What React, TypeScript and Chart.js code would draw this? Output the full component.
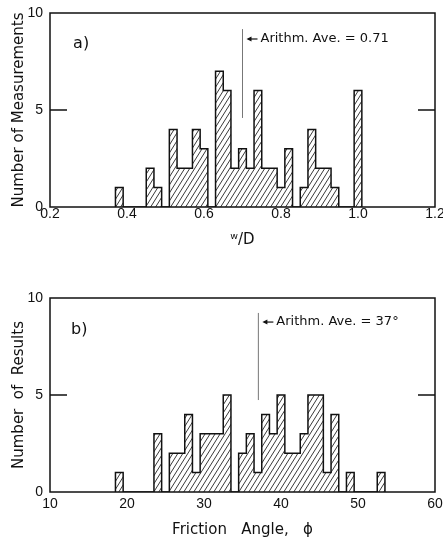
import React, { useEffect, useRef } from "react";
import { Chart, registerables } from "chart.js";
Chart.register(...registerables);

// ---------- Data ----------
const binCentersA = [0.38, 0.40, 0.42, 0.44, 0.46, 0.48, 0.50, 0.52, 0.54, 0.56, 0.58, 0.60, 0.62, 0.64, 0.66, 0.68, 0.70, 0.72, 0.74, 0.76, 0.78, 0.80, 0.82, 0.84, 0.86, 0.88, 0.90, 0.92, 0.94, 0.96, 0.98, 1.00];
const countsA = [1, 0, 0, 0, 2, 1, 0, 4, 2, 2, 4, 3, 0, 7, 6, 2, 3, 2, 6, 2, 2, 1, 3, 0, 1, 4, 2, 2, 1, 0, 0, 6];
const binWidthA = 0.02;

const binCentersB = [19, 20, 21, 22, 23, 24, 25, 26, 27, 28, 29, 30, 31, 32, 33, 34, 35, 36, 37, 38, 39, 40, 41, 42, 43, 44, 45, 46, 47, 48, 49, 50, 51, 52, 53];
const countsB = [1, 0, 0, 0, 0, 3, 0, 2, 2, 4, 1, 3, 3, 3, 5, 0, 2, 3, 1, 4, 3, 5, 2, 2, 3, 5, 5, 1, 4, 0, 1, 0, 0, 0, 1];
const binWidthB = 1;

const avgLineA = { x: 0.70, top: 9.17, bottom: 4.59, arrowY: 8.66, text: "Arithm. Ave. = 0.71" };
const avgLineB = { x: 37.06, top: 9.23, bottom: 4.74, arrowY: 8.76, text: "Arithm. Ave. = 37°" };
const panelLabelA = { x: 0.26, y: 8.4, text: "a)" };
const panelLabelB = { x: 12.73, y: 8.35, text: "b)" };

const xRangeA = { min: 0.2, max: 1.2, step: 0.2 };
const xRangeB = { min: 10, max: 60, step: 10 };
const yRange = { min: 0, max: 10, step: 5 };

// ---------- Helpers ----------
function stepPoints(centers: number[], counts: number[], w: number) {
  const pts: { x: number; y: number }[] = [{ x: centers[0] - w / 2, y: 0 }];
  centers.forEach((c, i) => pts.push({ x: c - w / 2, y: counts[i] }));
  pts.push({ x: centers[centers.length - 1] + w / 2, y: 0 });
  return pts;
}

function makeHatch(ctx: CanvasRenderingContext2D) {
  const c = document.createElement("canvas");
  const w = 5, h = 8;
  c.width = w; c.height = h;
  const g = c.getContext("2d")!;
  g.strokeStyle = "#222";
  g.lineWidth = 0.9;
  g.beginPath();
  g.moveTo(0, h); g.lineTo(w, 0);
  g.moveTo(-w, h); g.lineTo(0, 0);
  g.moveTo(w, h); g.lineTo(2 * w, 0);
  g.stroke();
  return ctx.createPattern(c, "repeat");
}

const framePlugin = {
  id: "frame",
  afterDatasetsDraw(chart: any, _args: any, opts: any) {
    const { ctx, chartArea: a, scales } = chart;
    const x = scales.x, y = scales.y;
    ctx.save();
    ctx.strokeStyle = "#111";
    ctx.lineWidth = 1.5;
    ctx.strokeRect(a.left, a.top, a.right - a.left, a.bottom - a.top);
    const yp = y.getPixelForValue(opts.innerTick);
    ctx.beginPath();
    ctx.moveTo(a.left, yp); ctx.lineTo(a.left + 17, yp);
    ctx.moveTo(a.right, yp); ctx.lineTo(a.right - 17, yp);
    ctx.stroke();

    const av = opts.avg;
    const ax = x.getPixelForValue(av.x);
    ctx.strokeStyle = "#777";
    ctx.lineWidth = 1;
    ctx.beginPath();
    ctx.moveTo(ax, y.getPixelForValue(av.top));
    ctx.lineTo(ax, y.getPixelForValue(av.bottom));
    ctx.stroke();

    const ay = y.getPixelForValue(av.arrowY);
    ctx.strokeStyle = "#111";
    ctx.fillStyle = "#111";
    ctx.lineWidth = 1.2;
    ctx.beginPath();
    ctx.moveTo(ax + 6, ay); ctx.lineTo(ax + 15, ay);
    ctx.stroke();
    ctx.beginPath();
    ctx.moveTo(ax + 4, ay); ctx.lineTo(ax + 9, ay - 2.5); ctx.lineTo(ax + 9, ay + 2.5); ctx.closePath();
    ctx.fill();

    ctx.font = "13px 'DejaVu Sans'";
    ctx.textAlign = "left";
    ctx.textBaseline = "middle";
    ctx.fillText(av.text, ax + 18, ay);

    const pl = opts.label;
    ctx.font = "16px 'DejaVu Sans'";
    ctx.fillText(pl.text, x.getPixelForValue(pl.x), y.getPixelForValue(pl.y));
    ctx.restore();
  },
};

type PanelProps = {
  height: number;
  padTop: number;
  centers: number[];
  counts: number[];
  binWidth: number;
  xRange: { min: number; max: number; step: number };
  xDecimals: number;
  xTitle: string;
  yTitle: string;
  tickPad: number;
  titlePadBottom: number;
  avg: any;
  label: any;
};

function Panel(p: PanelProps) {
  const ref = useRef<HTMLCanvasElement>(null);
  useEffect(() => {
    const canvas = ref.current!;
    const ctx = canvas.getContext("2d")!;
    const hatch = makeHatch(ctx);
    const plotH = 194;
    const xAxisH = p.height - p.padTop - plotH;
    const chart = new Chart(canvas, {
      type: "line",
      data: {
        datasets: [
          {
            data: stepPoints(p.centers, p.counts, p.binWidth),
            stepped: "before",
            borderColor: "#111",
            borderWidth: 1.5,
            pointRadius: 0,
            fill: "origin",
            backgroundColor: hatch as any,
          },
        ],
      },
      options: {
        animation: false,
        responsive: false,
        events: [],
        layout: { padding: { top: p.padTop, right: 8, left: 0, bottom: 0 } },
        plugins: {
          legend: { display: false },
          tooltip: { enabled: false },
          frame: { innerTick: 5, avg: p.avg, label: p.label },
        } as any,
        scales: {
          x: {
            type: "linear",
            min: p.xRange.min,
            max: p.xRange.max,
            grid: { display: false, drawTicks: false },
            border: { display: false },
            ticks: {
              stepSize: p.xRange.step,
              padding: p.tickPad,
              color: "#111",
              font: { family: "'Liberation Sans'", size: 14, lineHeight: 1 },
              maxRotation: 0,
              autoSkip: false,
              callback: (v: any) => Number(v).toFixed(p.xDecimals),
            },
            title: {
              display: true,
              text: p.xTitle,
              color: "#111",
              font: { family: "'DejaVu Sans'", size: 15, lineHeight: 1.2 },
              padding: { top: 0, bottom: p.titlePadBottom },
            },
            afterFit: (s: any) => {
              s.height = xAxisH;
              s.paddingLeft = 0;
              s.paddingRight = 0;
            },
          },
          y: {
            min: yRange.min,
            max: yRange.max,
            grid: { display: false, drawTicks: false },
            border: { display: false },
            ticks: {
              stepSize: yRange.step,
              padding: 7,
              color: "#111",
              font: { family: "'Liberation Sans'", size: 14, lineHeight: 1 },
            },
            title: {
              display: true,
              text: p.yTitle,
              color: "#111",
              font: { family: "'DejaVu Sans'", size: 15, lineHeight: 1.2 },
              padding: { top: 10, bottom: 0 },
            },
            afterFit: (s: any) => {
              s.width = 50;
              s.paddingTop = 0;
              s.paddingBottom = 0;
            },
          },
        },
      },
      plugins: [framePlugin as any],
    });
    return () => chart.destroy();
  }, []);
  return <canvas ref={ref} width={443} height={p.height} style={{ display: "block" }} />;
}

export default function App() {
  return (
    <div style={{ position: "absolute", left: 0, top: 0, width: 443, height: 546, background: "#fff" }}>
      <Panel
        height={250}
        padTop={13}
        centers={binCentersA}
        counts={countsA}
        binWidth={binWidthA}
        xRange={xRangeA}
        xDecimals={1}
        xTitle={"ʷ/D"}
        yTitle={"Number of Measurements"}
        tickPad={0}
        titlePadBottom={1}
        avg={avgLineA}
        label={panelLabelA}
      />
      <Panel
        height={296}
        padTop={48}
        centers={binCentersB}
        counts={countsB}
        binWidth={binWidthB}
        xRange={xRangeB}
        xDecimals={0}
        xTitle={"Friction   Angle,   ϕ"}
        yTitle={"Number  of  Results"}
        tickPad={5}
        titlePadBottom={7}
        avg={avgLineB}
        label={panelLabelB}
      />
    </div>
  );
}
